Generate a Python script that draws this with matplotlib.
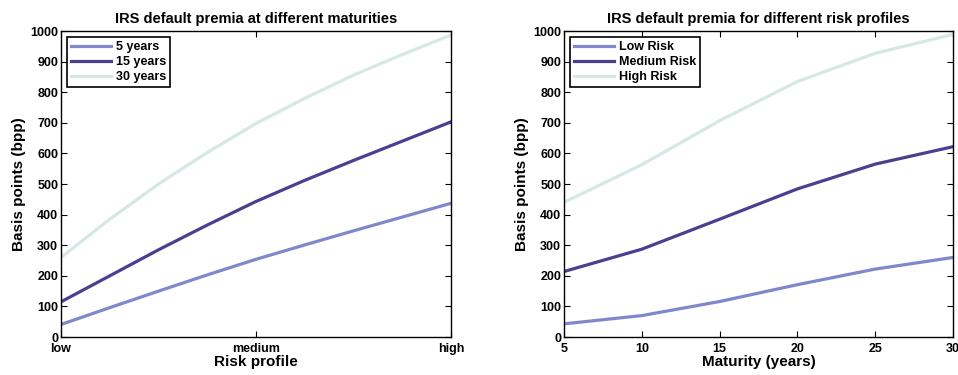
import numpy as np
import matplotlib
matplotlib.use('Agg')
import matplotlib.pyplot as plt

plt.rcParams['font.family'] = ['Liberation Sans', 'DejaVu Sans']
plt.rcParams['font.weight'] = 'bold'
plt.rcParams['axes.titleweight'] = 'bold'
plt.rcParams['axes.labelweight'] = 'bold'

# left panel: premia vs risk profile for each maturity
risk_pos = [0, 0.125, 0.25, 0.375, 0.5, 0.625, 0.75, 0.875, 1]
risk_ticks = [0, 0.5, 1]
risk_labels = ['low', 'medium', 'high']
mat_5y = [41, 96, 150, 203, 254, 301, 347, 392, 437]
mat_15y = [115, 200, 285, 366, 443, 512, 577, 640, 703]
mat_30y = [260, 385, 500, 603, 698, 780, 856, 923, 987]

# right panel: premia vs maturity for each risk profile
maturity = [5, 10, 15, 20, 25, 30]
low_risk = [43, 70, 116, 171, 222, 260]
medium_risk = [214, 287, 385, 484, 565, 622]
high_risk = [440, 563, 707, 835, 927, 989]

c_low = '#8088cc'
c_mid = '#4f3d8f'
c_high = '#d5e8e6'
lw = 2.3

fig = plt.figure(figsize=(9.58, 3.75), dpi=100)
ax1 = fig.add_axes([0.0637, 0.1013, 0.4071, 0.816])
ax2 = fig.add_axes([0.5887, 0.1013, 0.4061, 0.816])

ax1.plot(risk_pos, mat_5y, color=c_low, lw=lw, label='5 years')
ax1.plot(risk_pos, mat_15y, color=c_mid, lw=lw, label='15 years')
ax1.plot(risk_pos, mat_30y, color=c_high, lw=lw, label='30 years')
ax1.set_xlim(0, 1)
ax1.set_xticks(risk_ticks)
ax1.set_xticklabels(risk_labels)
ax1.set_xlabel('Risk profile', fontsize=11, labelpad=0)
ax1.set_title('IRS default premia at different maturities', fontsize=10.5, pad=6)

ax2.plot(maturity, low_risk, color=c_low, lw=lw, label='Low Risk')
ax2.plot(maturity, medium_risk, color=c_mid, lw=lw, label='Medium Risk')
ax2.plot(maturity, high_risk, color=c_high, lw=lw, label='High Risk')
ax2.set_xlim(5, 30)
ax2.set_xticks(maturity)
ax2.set_xlabel('Maturity (years)', fontsize=11, labelpad=0)
ax2.set_title('IRS default premia for different risk profiles', fontsize=10.5, pad=6)

for ax in (ax1, ax2):
    ax.set_ylim(0, 1000)
    ax.set_yticks(np.arange(0, 1001, 100))
    ax.set_ylabel('Basis points (bpp)', fontsize=11, labelpad=3)
    ax.tick_params(direction='in', top=True, right=True, length=4, width=0.8,
                   labelsize=9, pad=2)
    ax.tick_params(axis='x', pad=4)
    for s in ax.spines.values():
        s.set_linewidth(1.0)
    leg = ax.legend(loc='upper left', fontsize=9, handlelength=3.2,
                    borderpad=0.3, labelspacing=0.25, handletextpad=0.4,
                    fancybox=False, framealpha=1, borderaxespad=0.5)
    leg.get_frame().set_edgecolor('black')
    leg.get_frame().set_linewidth(1.2)

fig.savefig('out.png', dpi=100)
